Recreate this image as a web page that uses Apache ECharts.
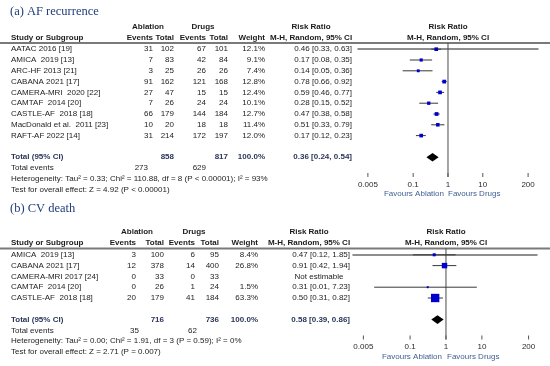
<!DOCTYPE html>
<html><head><meta charset="utf-8">
<script src="https://cdn.jsdelivr.net/npm/echarts@6.0.0/dist/echarts.min.js"></script>
<style>html,body{margin:0;padding:0;background:#fff}#c{width:550px;height:366px}</style>
</head><body><div id="c"></div>
<script>
// ---------- Panel (a): AF recurrence ----------
const titleA = '(a) AF recurrence';
const studiesA = ['AATAC 2016 [19]','AMICA  2019 [13]','ARC-HF 2013 [21]','CABANA 2021 [17]','CAMERA-MRI  2020 [22]','CAMTAF  2014 [20]','CASTLE-AF  2018 [18]','MacDonald et al.  2011 [23]','RAFT-AF 2022 [14]'];
const ablEventsA = [31,7,3,91,27,7,66,10,31];
const ablTotalA = [102,83,25,162,47,26,179,20,214];
const drugEventsA = [67,42,26,121,15,24,144,18,172];
const drugTotalA = [101,84,26,168,15,24,184,18,197];
const weightA = [12.1,9.1,7.4,12.8,12.4,10.1,12.7,11.4,12.0];
const rrA = [0.46,0.17,0.14,0.78,0.59,0.28,0.47,0.51,0.17];
const loA = [0.33,0.08,0.05,0.66,0.46,0.15,0.38,0.33,0.12];
const hiA = [0.63,0.35,0.36,0.92,0.77,0.52,0.58,0.79,0.23];
const totalsA = [858, 817];          // ablation total, drugs total
const totalEventsA = [273, 629];
const pooledA = [0.36, 0.24, 0.54];  // rr, lo, hi
const hetA = 'Heterogeneity: Tau\u00b2 = 0.33; Chi\u00b2 = 110.88, df = 8 (P < 0.00001); I\u00b2 = 93%';
const testA = 'Test for overall effect: Z = 4.92 (P < 0.00001)';

// ---------- Panel (b): CV death ----------
const titleB = '(b) CV death';
const studiesB = ['AMICA  2019 [13]','CABANA 2021 [17]','CAMERA-MRI 2017 [24]','CAMTAF  2014 [20]','CASTLE-AF  2018 [18]'];
const ablEventsB = [3,12,0,0,20];
const ablTotalB = [100,378,33,26,179];
const drugEventsB = [6,14,0,1,41];
const drugTotalB = [95,400,33,24,184];
const weightB = [8.4,26.8,null,1.5,63.3];
const rrB = [0.47,0.91,null,0.31,0.50];
const loB = [0.12,0.42,null,0.01,0.31];
const hiB = [1.85,1.94,null,7.23,0.82];
const totalsB = [716, 736];
const totalEventsB = [35, 62];
const pooledB = [0.58, 0.39, 0.86];
const hetB = 'Heterogeneity: Tau\u00b2 = 0.00; Chi\u00b2 = 1.91, df = 3 (P = 0.59); I\u00b2 = 0%';
const testB = 'Test for overall effect: Z = 2.71 (P = 0.007)';

// ---------- axis ----------
const tickValues = [0.005, 0.1, 1, 10, 200];
const tickLabels = ['0.005', '0.1', '1', '10', '200'];
const favoursLeft = 'Favours Ablation';
const favoursRight = 'Favours Drugs';

// ---------- layout / style ----------
const SANS = '"Liberation Sans", Arial, sans-serif';
const F = 'normal 8px ' + SANS, FB = 'bold 8px ' + SANS;
const TXT = '#1c1c1c', TOT = '#2b3559', BLUE_T = '#1f3d7a', FAV = '#3f5f93';

const layoutA = {titleY: 12, hdr1: 27, hdr2: 37.5, lineY: 43, row0: 49.2, step: 10.8, totGap: 21.6, sub: 10.8, axisY: 177,
  col: {study: 11, ablEv: 153, ablTot: 174, drugEv: 206, drugTot: 228, weight: 265, rr: 352, rrHdr: 311, plotHdr: 448,
        ablHdr: 148, drugHdr: 203, teAbl: 148, teDrug: 206, favL: 444, favR: 448},
  gridL: 358, gridR: 12, xMin: 0.0026, xMax: 385};
const layoutB = {titleY: 209, hdr1: 232, hdr2: 242.5, lineY: 248.5, row0: 254.8, step: 10.8, totGap: 21.6, sub: 10.8, axisY: 339.5,
  col: {study: 11, ablEv: 136, ablTot: 164, drugEv: 195, drugTot: 219, weight: 258, rr: 350, rrHdr: 309, plotHdr: 446,
        ablHdr: 137, drugHdr: 194, teAbl: 139, teDrug: 197, favL: 442, favR: 447},
  gridL: 353, gridR: 13, xMin: 0.00257, xMax: 343};

const panels = [
  {title: titleA, studies: studiesA, ae: ablEventsA, at: ablTotalA, de: drugEventsA, dt: drugTotalA, w: weightA, rr: rrA, lo: loA, hi: hiA,
   totals: totalsA, tev: totalEventsA, pooled: pooledA, het: hetA, test: testA, L: layoutA},
  {title: titleB, studies: studiesB, ae: ablEventsB, at: ablTotalB, de: drugEventsB, dt: drugTotalB, w: weightB, rr: rrB, lo: loB, hi: hiB,
   totals: totalsB, tev: totalEventsB, pooled: pooledB, het: hetB, test: testB, L: layoutB}
];

function txt(x, y, s, font, align, fill) {
  return {type: 'text', silent: true, style: {x: x, y: y, text: String(s), font: font || F, fill: fill || TXT,
    textAlign: align || 'left', textVerticalAlign: 'middle'}};
}
function fmt(v) { return v.toFixed(2); }

const graphics = [];
const grids = [], xAxes = [], yAxes = [], series = [];

panels.forEach(function (p, k) {
  const L = p.L, C = L.col;
  const n = p.studies.length;
  const rowY = function (i) { return L.row0 + i * L.step; };
  const totIdx = n - 1 + L.totGap / L.step;
  // titles & headers
  graphics.push(txt(10, L.titleY, p.title, 'normal 12.5px "Liberation Serif", "Times New Roman", serif', 'left', BLUE_T));
  graphics.push(txt(C.ablHdr, L.hdr1, 'Ablation', FB, 'center'));
  graphics.push(txt(C.drugHdr, L.hdr1, 'Drugs', FB, 'center'));
  graphics.push(txt(C.rrHdr, L.hdr1, 'Risk Ratio', FB, 'center'));
  graphics.push(txt(C.plotHdr, L.hdr1, 'Risk Ratio', FB, 'center'));
  graphics.push(txt(C.study, L.hdr2, 'Study or Subgroup', FB, 'left'));
  graphics.push(txt(C.ablEv, L.hdr2, 'Events', FB, 'right'));
  graphics.push(txt(C.ablTot, L.hdr2, 'Total', FB, 'right'));
  graphics.push(txt(C.drugEv, L.hdr2, 'Events', FB, 'right'));
  graphics.push(txt(C.drugTot, L.hdr2, 'Total', FB, 'right'));
  graphics.push(txt(C.weight, L.hdr2, 'Weight', FB, 'right'));
  graphics.push(txt(C.rrHdr, L.hdr2, 'M-H, Random, 95% CI', FB, 'center'));
  graphics.push(txt(C.plotHdr, L.hdr2, 'M-H, Random, 95% CI', FB, 'center'));
  graphics.push({type: 'line', silent: true, shape: {x1: 0, y1: L.lineY, x2: 550, y2: L.lineY}, style: {stroke: '#7a7a7a', lineWidth: 2}});
  // study rows
  for (let i = 0; i < n; i++) {
    const y = rowY(i);
    graphics.push(txt(C.study, y, p.studies[i]));
    graphics.push(txt(C.ablEv, y, p.ae[i], F, 'right'));
    graphics.push(txt(C.ablTot, y, p.at[i], F, 'right'));
    graphics.push(txt(C.drugEv, y, p.de[i], F, 'right'));
    graphics.push(txt(C.drugTot, y, p.dt[i], F, 'right'));
    if (p.w[i] != null) graphics.push(txt(C.weight, y, p.w[i].toFixed(1) + '%', F, 'right'));
    if (p.rr[i] != null) graphics.push(txt(C.rr, y, fmt(p.rr[i]) + ' [' + fmt(p.lo[i]) + ', ' + fmt(p.hi[i]) + ']', F, 'right'));
    else graphics.push(txt(C.rrHdr + 10, y, 'Not estimable', F, 'center'));
  }
  // totals
  const ty = rowY(totIdx);
  graphics.push(txt(C.study, ty, 'Total (95% CI)', FB, 'left', TOT));
  graphics.push(txt(C.ablTot, ty, p.totals[0], FB, 'right', TOT));
  graphics.push(txt(C.drugTot, ty, p.totals[1], FB, 'right', TOT));
  graphics.push(txt(C.weight, ty, '100.0%', FB, 'right', TOT));
  graphics.push(txt(C.rr, ty, fmt(p.pooled[0]) + ' [' + fmt(p.pooled[1]) + ', ' + fmt(p.pooled[2]) + ']', FB, 'right', TOT));
  graphics.push(txt(C.study, ty + L.sub, 'Total events'));
  graphics.push(txt(C.teAbl, ty + L.sub, p.tev[0], F, 'right'));
  graphics.push(txt(C.teDrug, ty + L.sub, p.tev[1], F, 'right'));
  graphics.push(txt(C.study, ty + 2 * L.sub, p.het));
  graphics.push(txt(C.study, ty + 3 * L.sub, p.test));
  graphics.push(txt(C.favL, L.axisY + 17, favoursLeft, F, 'right', FAV));
  graphics.push(txt(C.favR, L.axisY + 17, favoursRight, F, 'left', FAV));

  // grid & axes
  const yMin = (L.lineY - L.row0) / L.step, yMax = (L.axisY - L.row0) / L.step;
  grids.push({left: L.gridL, right: L.gridR, top: L.lineY, height: L.axisY - L.lineY, containLabel: false});
  xAxes.push({type: 'log', logBase: 10, gridIndex: k, min: L.xMin, max: L.xMax,
    axisLine: {show: true, lineStyle: {color: '#6a6a6a', width: 1.5}}, axisTick: {show: false},
    axisLabel: {show: false}, splitLine: {show: false}});
  yAxes.push({type: 'value', gridIndex: k, inverse: true, min: yMin, max: yMax, show: false});

  // vertical line of no effect
  series.push({type: 'line', xAxisIndex: k, yAxisIndex: k, data: [[1, yMin], [1, yMax]], showSymbol: false, symbol: 'none',
    lineStyle: {color: '#4a4a4a', width: 1}, silent: true, animation: false, z: 1});
  // studies
  const sData = [];
  for (let i = 0; i < n; i++) if (p.rr[i] != null) sData.push([p.rr[i], p.lo[i], p.hi[i], i, p.w[i]]);
  series.push({type: 'custom', xAxisIndex: k, yAxisIndex: k, data: sData, encode: {x: [0, 1, 2], y: 3}, z: 3,
    renderItem: function (params, api) {
      const row = api.value(3), w = api.value(4);
      const a = api.coord([api.value(1), row]), b = api.coord([api.value(2), row]), c = api.coord([api.value(0), row]);
      const s = Math.max(2, 1.05 * Math.sqrt(w));
      return {type: 'group', children: [
        {type: 'line', shape: {x1: a[0], y1: a[1], x2: b[0], y2: b[1]}, style: {stroke: '#383838', lineWidth: 1}},
        {type: 'rect', shape: {x: c[0] - s / 2, y: c[1] - s / 2, width: s, height: s}, style: {fill: '#0000cc'}}
      ]};
    }});
  // pooled diamond
  series.push({type: 'custom', xAxisIndex: k, yAxisIndex: k, data: [[p.pooled[0], p.pooled[1], p.pooled[2], totIdx]],
    encode: {x: [0, 1, 2], y: 3}, z: 3,
    renderItem: function (params, api) {
      const row = api.value(3);
      const a = api.coord([api.value(1), row]), b = api.coord([api.value(2), row]), c = api.coord([api.value(0), row]);
      const h = 4.3;
      return {type: 'polygon', shape: {points: [[a[0], a[1]], [c[0], c[1] - h], [b[0], b[1]], [c[0], c[1] + h]]}, style: {fill: '#000'}};
    }});
  // axis ticks & labels
  series.push({type: 'custom', xAxisIndex: k, yAxisIndex: k, data: tickValues.map(function (v, j) { return [v, yMax, j]; }),
    encode: {x: 0, y: 1}, z: 4, clip: false,
    renderItem: function (params, api) {
      const q = api.coord([api.value(0), api.value(1)]);
      return {type: 'group', children: [
        {type: 'line', shape: {x1: q[0], y1: q[1], x2: q[0], y2: q[1] - 4}, style: {stroke: '#555', lineWidth: 1}},
        {type: 'text', style: {x: q[0], y: q[1] + 7.5, text: tickLabels[api.value(2)], font: F, fill: '#2a2a2a', textAlign: 'center', textVerticalAlign: 'middle'}}
      ]};
    }});
});

const chart = echarts.init(document.getElementById('c'), null, {renderer: 'canvas'});
chart.setOption({
  animation: false,
  backgroundColor: '#ffffff',
  grid: grids, xAxis: xAxes, yAxis: yAxes, series: series,
  graphic: {elements: graphics}
});
</script>
</body></html>
